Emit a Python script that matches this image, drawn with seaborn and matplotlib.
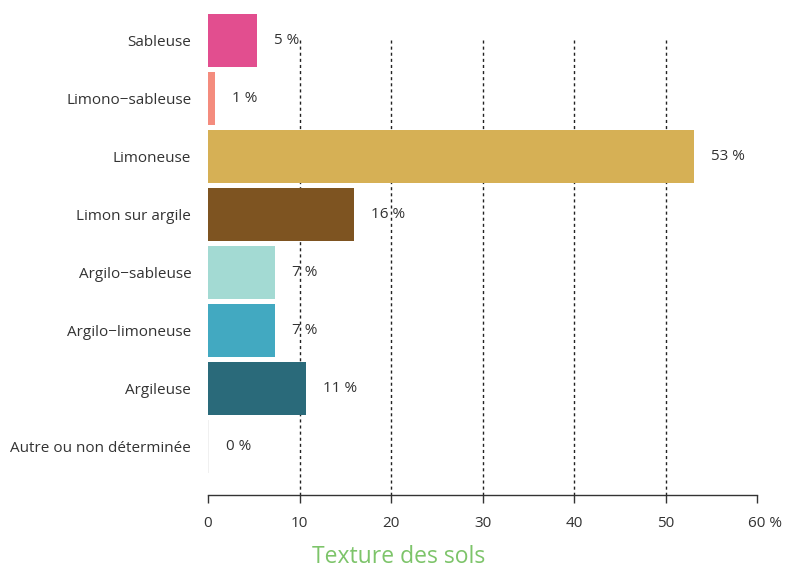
import matplotlib
matplotlib.use("Agg")
import matplotlib.pyplot as plt
import matplotlib.transforms as mtransforms
import seaborn as sns
import pandas as pd

textures = ["Sableuse", "Limono\u2212sableuse", "Limoneuse", "Limon sur argile",
            "Argilo\u2212sableuse", "Argilo\u2212limoneuse", "Argileuse",
            "Autre ou non déterminée"]
shares = [5.35, 0.75, 53.1, 16.0, 7.3, 7.3, 10.7, 0.15]
colors = ["#E24E8F", "#F48C7E", "#D6B055", "#7E5421",
          "#A3DAD3", "#42A9C1", "#2A6A7A", "#F0F0F0"]
xticks = [0, 10, 20, 30, 40, 50, 60]
xticklabels = ["0", "10", "20", "30", "40", "50", "60 %"]

df = pd.DataFrame({"texture": textures, "share": shares})

sns.set_style("white")
plt.rcParams["font.family"] = ["Open Sans", "DejaVu Sans"]
txt = "#333333"

fig = plt.figure(figsize=(7.88, 5.69), dpi=100)
ax = fig.add_axes([0.264, 0.130, 0.697, 0.850])

sns.barplot(data=df, x="share", y="texture", hue="texture", palette=colors,
            order=textures, hue_order=textures, orient="h", width=0.914,
            legend=False, saturation=1, linewidth=0, ax=ax, zorder=2)

ax.set_xlim(0, 60)
ax.set_ylim(7.84, -0.5)

# dashed guides from the first bar down to the axis
ax.vlines(xticks[1:-1], 0, 7.84, colors="#222222", linestyles=(0, (2.2, 2.2)),
          linewidth=1.0, zorder=0.5)

for i, v in enumerate(shares):
    ax.annotate(f"{round(v)} %", (v, i), xytext=(12, 0), textcoords="offset points",
                ha="left", va="center", fontsize=11, color=txt)

for s in ["top", "right", "left"]:
    ax.spines[s].set_visible(False)
ax.spines["bottom"].set_bounds(0, 60)
ax.spines["bottom"].set_color("#333333")
ax.spines["bottom"].set_linewidth(1.0)

ax.set_xticks(xticks)
ax.set_xticklabels(xticklabels)
ax.tick_params(axis="x", direction="out", length=6, width=1, color="#333333",
               pad=9, labelsize=11, labelcolor=txt, bottom=True)
ax.tick_params(axis="y", length=0, pad=12, labelsize=11, labelcolor=txt)
last = ax.get_xticklabels()[-1]
last.set_ha("left")
last.set_transform(last.get_transform() + mtransforms.ScaledTranslation(-9 / 100, 0, fig.dpi_scale_trans))

ax.set_xlabel("")
ax.set_ylabel("")
fig.text(0.506, 0.021, "Texture des sols", ha="center", va="center",
         fontsize=16.5, color="#7DC46A")

fig.savefig("out.png", dpi=100)
